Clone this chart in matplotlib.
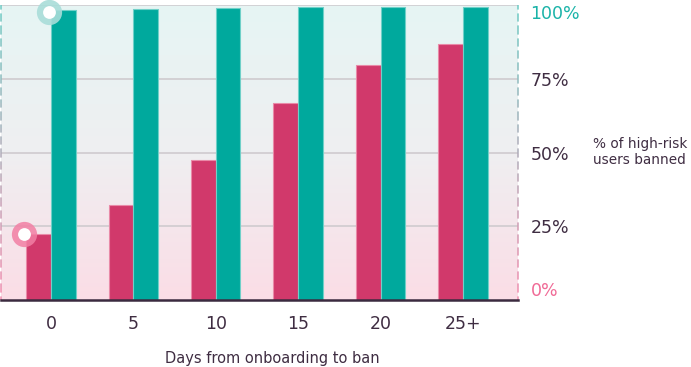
import numpy as np
import matplotlib
matplotlib.use("Agg")
import matplotlib.pyplot as plt
from matplotlib.collections import LineCollection
from matplotlib.colors import LinearSegmentedColormap, to_rgb

categories = ["0", "5", "10", "15", "20", "25+"]
pink_vals = [22.5, 32.3, 47.4, 66.9, 79.8, 86.8]
teal_vals = [98.2, 98.6, 99.1, 99.2, 99.3, 99.3]
ytick_vals = [0, 25, 50, 75, 100]
ytick_labels = ["0%", "25%", "50%", "75%", "100%"]

PINK = "#d1396b"
TEAL = "#00a99d"
TXT = "#3f2d42"

plt.rcParams['font.family'] = ['DejaVu Sans']

W, H = 691, 367
fig = plt.figure(figsize=(W / 100, H / 100), dpi=100)
ax = fig.add_axes([1 / W, 67 / H, 517 / W, 295 / H])

# gradient background
grad = np.linspace(0, 1, 256).reshape(-1, 1)
cmap = LinearSegmentedColormap.from_list("bg", ["#e6f5f4", "#efeff1", "#fbdde6"])
ax.imshow(grad, aspect="auto", cmap=cmap, extent=[0, 1, 0, 1],
          transform=ax.transAxes, zorder=0)

x = np.arange(len(categories))
bw = 0.30
ax.bar(x - bw / 2, pink_vals, width=bw, color=PINK, edgecolor="#e98aa8",
       linewidth=0.8, zorder=3)
ax.bar(x + bw / 2, teal_vals, width=bw, color=TEAL, edgecolor="#6fd0c8",
       linewidth=0.8, zorder=3)

ax.set_xlim(-0.605, 5.666)
ax.set_ylim(0, 100)

# grid
for v in ytick_vals[1:]:
    ax.axhline(v, color="#cfcbcf", linewidth=1.2, zorder=1)

# baseline
ax.axhline(0, color="#3b2a3f", linewidth=1.8, zorder=4, clip_on=False)

# dashed gradient side lines
def grad_line(xpos):
    n = 24
    ys = np.linspace(100, 0, n + 1)
    segs = [[(xpos, ys[i]), (xpos, ys[i + 1])] for i in range(n)]
    c0 = np.array(to_rgb("#6fcac3"))
    c1 = np.array(to_rgb("#f08fb0"))
    cols = [tuple(c0 + (c1 - c0) * (i / (n - 1))) for i in range(n)]
    lc = LineCollection(segs, colors=cols, linewidths=1.1,
                        linestyles=(0, (3, 2.5)),
                        transform=ax.get_yaxis_transform(), zorder=2)
    lc.set_clip_on(False)
    ax.add_collection(lc)

grad_line(0.0)
grad_line(1.0)

# markers
ax.scatter([x[0] - bw - 0.02], [pink_vals[0]], s=330, color="#f27fa4", alpha=0.85,
           zorder=6, clip_on=False, linewidths=0)
ax.scatter([x[0] - bw - 0.02], [pink_vals[0]], s=85, color="white", zorder=7,
           clip_on=False, linewidths=0)
ax.scatter([x[0] - 0.02], [teal_vals[0] - 0.7], s=330, color="#a9ddd9", alpha=0.9,
           zorder=6, clip_on=False, linewidths=0)
ax.scatter([x[0] - 0.02], [teal_vals[0] - 0.7], s=85, color="white", zorder=7,
           clip_on=False, linewidths=0)

for s in ax.spines.values():
    s.set_visible(False)

ax.set_xticks(x)
ax.set_xticklabels(categories, fontsize=12.5, color=TXT)
ax.tick_params(axis="x", length=0, pad=11)

ax.yaxis.tick_right()
ax.set_yticks(ytick_vals)
ax.set_yticklabels(ytick_labels, fontsize=12.5, color=TXT)
ax.tick_params(axis="y", length=0, pad=9)
labs = ax.get_yticklabels()
labs[0].set_color("#f06a96")
labs[0].set_verticalalignment("bottom")
labs[-1].set_color("#1ab3a8")
labs[-1].set_verticalalignment("top")

fig.text(272 / W, 1 - 358 / H, "Days from onboarding to ban", fontsize=10.5,
         color=TXT, ha="center", va="center")
fig.text(593 / W, 1 - 152 / H, "% of high-risk\nusers banned", fontsize=9.8,
         color=TXT, ha="left", va="center", linespacing=1.2)

fig.savefig("out.png", dpi=100)
